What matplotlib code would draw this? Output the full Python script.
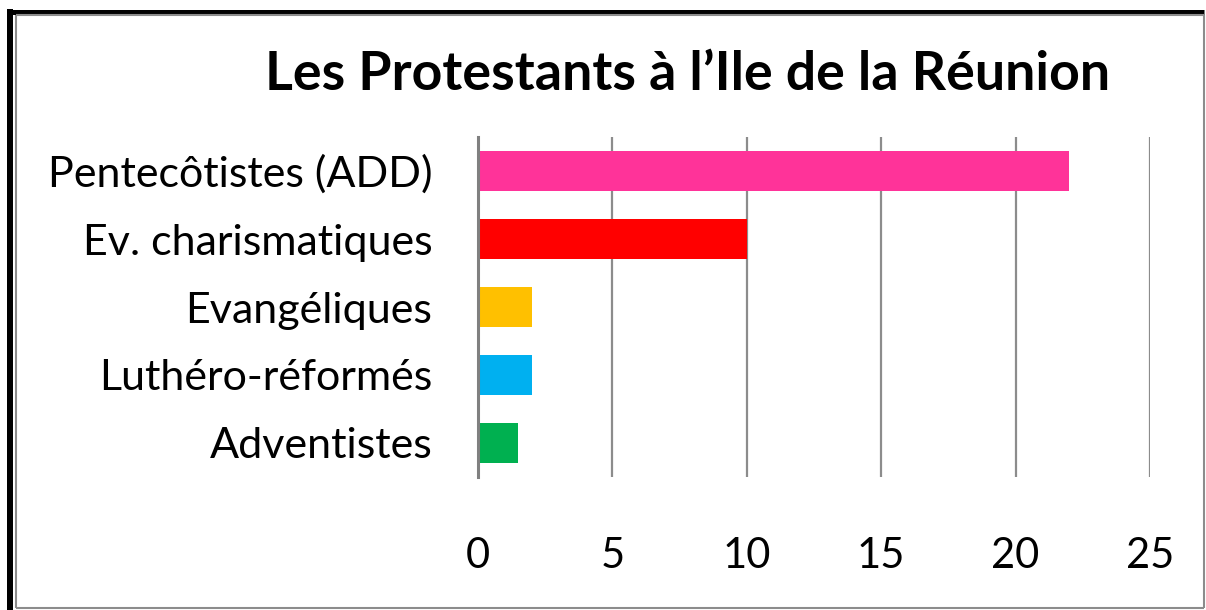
import matplotlib.pyplot as plt
from matplotlib.lines import Line2D

# --- Data ---
categories = ['Pentecôtistes (ADD)', 'Ev. charismatiques', 'Evangéliques',
              'Luthéro-réformés', 'Adventistes']
values = [22, 10, 2, 2, 1.5]
colors = ['#FF3399', '#FF0000', '#FFC000', '#00B0F0', '#00B050']
xticks = [0, 5, 10, 15, 20, 25]

plt.rcParams.update({
    "font.family": ["Lato", "DejaVu Sans"],
})

W, H = 1206, 610
fig = plt.figure(figsize=(W / 100, H / 100), dpi=100)
ax = fig.add_axes([478 / W, 1 - 477 / H, (1150 - 478) / W, (477 - 137) / H])

ypos = list(range(len(categories)))[::-1]
ax.barh(ypos, values, height=0.58, color=colors, zorder=3)

ax.set_xlim(0, 25)
ax.set_ylim(-0.5, len(categories) - 0.5)
ax.set_xticks(xticks)
ax.set_yticks(ypos)
ax.set_yticklabels(categories)
ax.grid(axis='x', color='#8c8c8c', linewidth=1.6, zorder=0)

for s in ['top', 'right', 'bottom']:
    ax.spines[s].set_visible(False)
ax.spines['left'].set_color('#808080')
ax.spines['left'].set_linewidth(2.2)
ax.spines['left'].set_zorder(4)

ax.tick_params(axis='x', length=0, pad=43, labelsize=30)
ax.tick_params(axis='y', length=0, pad=33, labelsize=31)

fig.text(688 / W, 1 - 75 / H, "Les Protestants à l’Ile de la Réunion",
         ha='center', va='center', fontsize=38.6, fontweight='bold')

# --- Frame ---
def px_line(x0, y0, x1, y1, lw, color):
    fig.add_artist(Line2D([x0 / W, x1 / W], [1 - y0 / H, 1 - y1 / H],
                          transform=fig.transFigure, color=color,
                          linewidth=lw, solid_capstyle='butt'))

px_line(7, 11.5, 1204, 11.5, 5 * 0.72, 'black')
px_line(10, 9, 10, 610, 6 * 0.72, 'black')
px_line(16, 15, 1204, 15, 1.5, '#8c8c8c')
px_line(16, 15, 16, 608, 1.5, '#8c8c8c')
px_line(1204, 15, 1204, 608, 1.5, '#8c8c8c')
px_line(16, 608, 1204, 608, 1.5, '#8c8c8c')

fig.savefig("out.png", dpi=100)
